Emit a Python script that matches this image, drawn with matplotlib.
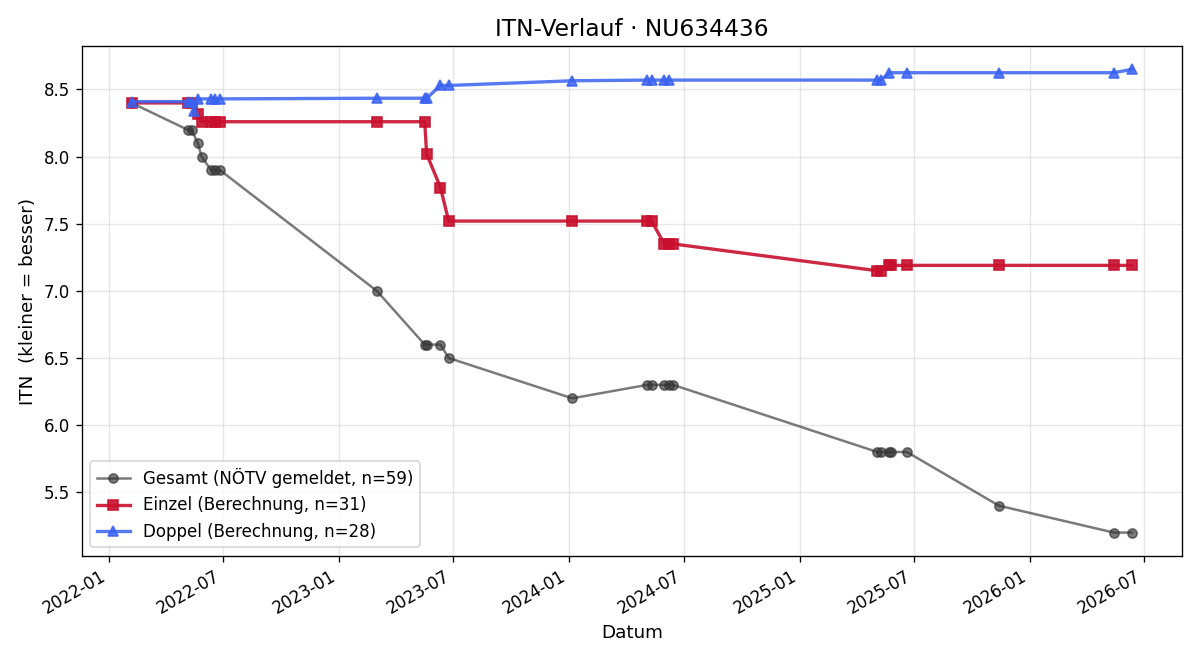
import pandas as pd
import matplotlib
matplotlib.use("Agg")
import matplotlib.pyplot as plt
import matplotlib.dates as mdates

gesamt_dates = ["2022-02-06", "2022-05-06", "2022-05-12", "2022-05-22", "2022-05-28",
                "2022-06-12", "2022-06-18", "2022-06-26", "2023-03-02", "2023-05-17",
                "2023-05-20", "2023-06-11", "2023-06-24", "2024-01-06", "2024-05-04",
                "2024-05-11", "2024-05-31", "2024-06-07", "2024-06-14", "2025-05-04",
                "2025-05-10", "2025-05-23", "2025-05-26", "2025-06-20", "2025-11-13",
                "2026-05-14", "2026-06-12"]
gesamt_itn = [8.4, 8.2, 8.2, 8.1, 8.0, 7.9, 7.9, 7.9, 7.0, 6.6, 6.6, 6.6, 6.5, 6.2,
              6.3, 6.3, 6.3, 6.3, 6.3, 5.8, 5.8, 5.8, 5.8, 5.8, 5.4, 5.2, 5.2]

einzel_dates = ["2022-02-06", "2022-05-06", "2022-05-12", "2022-05-22", "2022-05-28",
                "2022-06-12", "2022-06-18", "2022-06-26", "2023-03-02", "2023-05-17",
                "2023-05-20", "2023-06-11", "2023-06-24", "2024-01-06", "2024-05-04",
                "2024-05-11", "2024-05-31", "2024-06-07", "2024-06-14", "2025-05-04",
                "2025-05-10", "2025-05-23", "2025-05-26", "2025-06-20", "2025-11-13",
                "2026-05-14", "2026-06-12"]
einzel_itn = [8.40, 8.40, 8.40, 8.32, 8.26, 8.26, 8.26, 8.26, 8.26, 8.26, 8.02, 7.77,
              7.52, 7.52, 7.52, 7.52, 7.35, 7.35, 7.35, 7.15, 7.15, 7.19, 7.19, 7.19,
              7.19, 7.19, 7.19]

doppel_dates = ["2022-02-06", "2022-05-06", "2022-05-12", "2022-05-16", "2022-05-22",
                "2022-06-12", "2022-06-18", "2022-06-26", "2023-03-02", "2023-05-17",
                "2023-05-20", "2023-06-11", "2023-06-24", "2024-01-06", "2024-05-04",
                "2024-05-11", "2024-05-31", "2024-06-07", "2025-05-04", "2025-05-10",
                "2025-05-23", "2025-06-20", "2025-11-13", "2026-05-14", "2026-06-12"]
doppel_itn = [8.41, 8.41, 8.41, 8.34, 8.43, 8.43, 8.43, 8.43, 8.435, 8.435, 8.435,
              8.53, 8.53, 8.565, 8.57, 8.57, 8.57, 8.57, 8.57, 8.57, 8.625, 8.625,
              8.625, 8.625, 8.65]

fig, ax = plt.subplots(figsize=(10, 5.5), dpi=120)

ax.plot(pd.to_datetime(gesamt_dates), gesamt_itn, marker="o", markersize=5.5,
        color="#333333", alpha=0.65, linewidth=1.5,
        label="Gesamt (NÖTV gemeldet, n=59)")
ax.plot(pd.to_datetime(einzel_dates), einzel_itn, marker="s", markersize=6,
        color="#c8102e", alpha=0.9, linewidth=2,
        label="Einzel (Berechnung, n=31)")
ax.plot(pd.to_datetime(doppel_dates), doppel_itn, marker="^", markersize=6,
        color="#3a62f0", alpha=0.85, linewidth=2,
        label="Doppel (Berechnung, n=28)")

ax.xaxis.set_major_locator(mdates.MonthLocator(bymonth=[1, 7]))
ax.xaxis.set_major_formatter(mdates.DateFormatter("%Y-%m"))
fig.autofmt_xdate()

ax.set_title("ITN-Verlauf · NU634436", fontsize=14)
ax.set_xlabel("Datum", fontsize=11)
ax.set_ylabel("ITN  (kleiner = besser)", fontsize=11)
ax.grid(True, alpha=0.3)
ax.legend(loc="lower left", fontsize=10)

fig.subplots_adjust(left=0.068, right=0.985, top=0.930, bottom=0.158)
fig.savefig("out.png")
